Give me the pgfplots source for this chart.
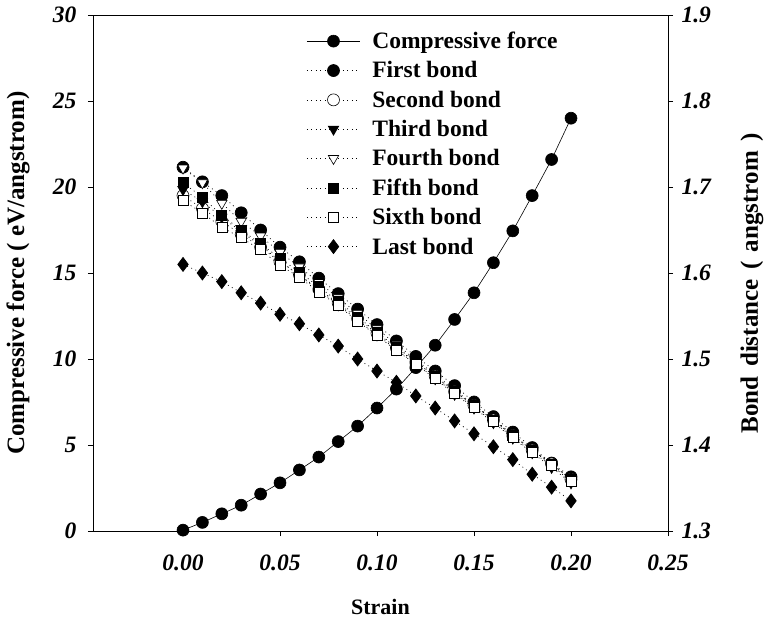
\documentclass[border=0pt]{standalone}
\usepackage{fontspec}
\setmainfont{Liberation Serif}
\usepackage{pgfplots}
\pgfplotsset{compat=1.18}
\usepackage{pgfplotstable}

% strain, compressive force (eV/angstrom), bond distances (angstrom)
\pgfplotstableread{
x     F      b1     b2     b3     b4     b5     b6     b7
0.00  0.05   1.723  1.690  1.697  1.722  1.705  1.684  1.610
0.01  0.50   1.706  1.675  1.683  1.705  1.688  1.670  1.600
0.02  1.00   1.690  1.660  1.665  1.681  1.667  1.653  1.590
0.03  1.50   1.670  1.645  1.648  1.660  1.650  1.641  1.577
0.04  2.15   1.650  1.630  1.632  1.643  1.634  1.627  1.565
0.05  2.80   1.630  1.613  1.614  1.624  1.617  1.609  1.552
0.06  3.55   1.613  1.598  1.597  1.607  1.601  1.595  1.541
0.07  4.30   1.594  1.581  1.580  1.589  1.584  1.578  1.528
0.08  5.20   1.576  1.565  1.563  1.571  1.567  1.562  1.515
0.09  6.10   1.558  1.547  1.545  1.553  1.549  1.544  1.500
0.10  7.15   1.540  1.530  1.528  1.535  1.531  1.527  1.486
0.11  8.25   1.521  1.513  1.511  1.517  1.514  1.510  1.473
0.12  9.50   1.503  1.496  1.494  1.499  1.497  1.494  1.457
0.13  10.80  1.486  1.480  1.477  1.482  1.480  1.478  1.443
0.14  12.30  1.469  1.462  1.459  1.464  1.462  1.460  1.428
0.15  13.85  1.450  1.446  1.443  1.447  1.446  1.444  1.413
0.16  15.60  1.433  1.429  1.426  1.430  1.429  1.427  1.398
0.17  17.45  1.415  1.411  1.408  1.412  1.411  1.409  1.383
0.18  19.50  1.397  1.394  1.391  1.395  1.394  1.392  1.366
0.19  21.60  1.379  1.378  1.374  1.378  1.377  1.376  1.351
0.20  24.00  1.363  1.360  1.356  1.361  1.360  1.358  1.335
}\strain

\newcommand{\bigfont}{\fontsize{23.5}{28}\selectfont\bfseries}
\newcommand{\labelfont}{\fontsize{25}{29}\selectfont\bfseries}

\pgfplotsset{
  common/.style={
    at={(0,0)}, anchor=south west,
    scale only axis, width=575pt, height=516pt,
    xmin=-0.0464, xmax=0.25,
    tick align=outside, major tick length=5pt,
    tick style={black, line width=0.6pt},
    axis line style={line width=0.7pt},
    /pgf/number format/assume math mode=true,
    ticklabel style={font=\bigfont\itshape},
  },
  bondline/.style={black, dash pattern=on 0.9pt off 3.6pt, line width=0.7pt},
}

\begin{document}
\begin{tikzpicture}
\path[use as bounding box] (-93pt,-94pt) rectangle (671pt,531pt);

% left axis: compressive force
\begin{axis}[common,
  ymin=0, ymax=30,
  xtick={0,0.05,0.10,0.15,0.20,0.25},
  ytick={0,5,10,15,20,25,30},
  xtick pos=left, ytick pos=left,
  xticklabel={\pgfmathprintnumber[fixed,fixed zerofill,precision=2]{\tick}},
  xticklabel style={anchor=center, yshift=-27pt},
  yticklabel style={anchor=east, xshift=-8pt},
  xlabel={Strain},
  ylabel={Compressive force ( eV/angstrom)},
  every axis x label/.style={at={(axis description cs:0.5,-0.1473)}, anchor=center, font=\fontsize{22}{26}\selectfont\bfseries},
  every axis y label/.style={at={(axis description cs:-0.1304,0.50)}, rotate=90, anchor=center, font=\labelfont},
]
\addplot[black, line width=0.6pt, mark=*, mark size=6pt] table[x=x, y=F] {\strain};
\end{axis}

% right axis: bond distances
\begin{axis}[common,
  ymin=1.3, ymax=1.9,
  axis x line=none, axis y line*=right,
  ytick={1.3,1.4,1.5,1.6,1.7,1.8,1.9},
  yticklabel={\pgfmathprintnumber[fixed,fixed zerofill,precision=1]{\tick}},
  yticklabel style={anchor=west, xshift=5pt},
  ylabel={\spaceskip=0.38em Bond distance ( angstrom )},
  every axis y label/.style={at={(axis description cs:1.146,0.48)}, rotate=90, anchor=center, font=\labelfont},
  legend style={draw=none, fill=none, font=\bigfont,
    at={(axis description cs:0.366,0.975)}, anchor=north west,
    row sep=7.5pt, cells={anchor=west},
    /tikz/every odd column/.append style={column sep=10pt}},
  legend image code/.code={
    \draw[mark repeat=2, mark phase=2, #1] plot coordinates {(0pt,0pt) (26.5pt,0pt) (53pt,0pt)};
  },
]
\addlegendimage{black, line width=0.6pt, mark=*, mark size=6pt}
\addlegendentry{Compressive force}
\addplot[bondline, mark=*, mark size=6pt, mark options={solid, fill=black}] table[x=x, y=b1] {\strain};
\addlegendentry{First bond}
\addplot[bondline, mark=*, mark size=6pt, mark options={solid, fill=white, line width=0.6pt}] table[x=x, y=b2] {\strain};
\addlegendentry{Second bond}
\addplot[bondline, mark=triangle*, mark size=6pt, mark options={solid, fill=black, rotate=180}] table[x=x, y=b3] {\strain};
\addlegendentry{Third bond}
\addplot[bondline, mark=triangle*, mark size=6pt, mark options={solid, fill=white, rotate=180, line width=0.6pt}] table[x=x, y=b4] {\strain};
\addlegendentry{Fourth bond}
\addplot[bondline, mark=square*, mark size=5pt, mark options={solid, fill=black}] table[x=x, y=b5] {\strain};
\addlegendentry{Fifth bond}
\addplot[bondline, mark=square*, mark size=5pt, mark options={solid, fill=white, line width=0.6pt}] table[x=x, y=b6] {\strain};
\addlegendentry{Sixth bond}
\addplot[bondline, mark=diamond*, mark size=7pt, mark options={solid, fill=black}] table[x=x, y=b7] {\strain};
\addlegendentry{Last bond}
\end{axis}
\end{tikzpicture}
\end{document}
